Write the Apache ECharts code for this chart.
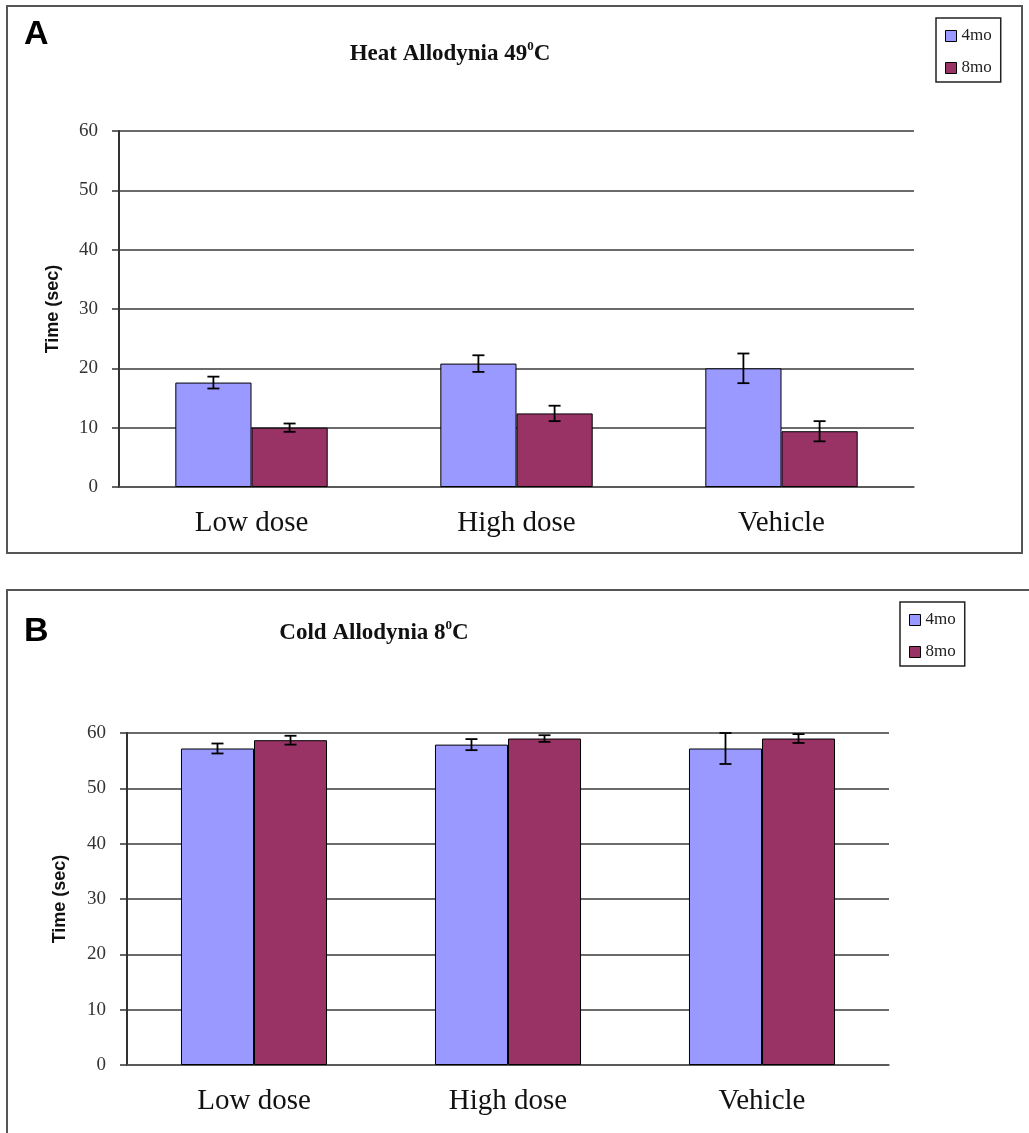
<!DOCTYPE html>
<html>
<head>
<meta charset="utf-8">
<script src="https://cdn.jsdelivr.net/npm/echarts@6/dist/echarts.min.js"></script>
<style>
  html, body { margin: 0; padding: 0; background: #fff; }
  #chart { width: 1029px; height: 1133px; }
</style>
</head>
<body>
<div id="chart"></div>
<script>
// ---- data ----
const categories = ['Low dose', 'High dose', 'Vehicle'];
const seriesNames = ['4mo', '8mo'];
const heat4 = [17.6, 20.8, 20.0];
const heat4Err = [1.0, 1.4, 2.5];
const heat8 = [10.0, 12.4, 9.4];
const heat8Err = [0.7, 1.3, 1.7];
const cold4 = [57.2, 57.9, 57.2];
const cold4Err = [0.9, 1.0, 2.8];
const cold8 = [58.7, 59.0, 59.0];
const cold8Err = [0.8, 0.6, 0.8];
const yMin = 0, yMax = 60, yStep = 10;

const SERIF = 'Liberation Serif';
const SANS = 'Liberation Sans';
const C4 = '#9999FF';
const C8 = '#993366';
const CAT_GAP = 0.425;

function errData(vals, errs) {
  return vals.map((v, i) => [i, v, errs[i]]);
}
function errRender(side) {
  return function (params, api) {
    const i = api.value(0), v = api.value(1), e = api.value(2);
    const band = api.size([1, 0])[0];
    const bw = band * (1 - CAT_GAP) / 2;
    const c = api.coord([i, v]);
    const x = c[0] + side * bw / 2;
    const top = api.coord([i, v + e])[1];
    const bot = api.coord([i, v - e])[1];
    const cap = 6;
    const st = { stroke: '#000', lineWidth: 1.8 };
    return {
      type: 'group',
      children: [
        { type: 'line', shape: { x1: x, y1: top, x2: x, y2: bot }, style: st },
        { type: 'line', shape: { x1: x - cap, y1: top, x2: x + cap, y2: top }, style: st },
        { type: 'line', shape: { x1: x - cap, y1: bot, x2: x + cap, y2: bot }, style: st }
      ]
    };
  };
}

function xAxisCfg(gi) {
  return {
    gridIndex: gi, type: 'category', data: categories,
    axisLine: { lineStyle: { color: '#555', width: 1.5 } },
    axisTick: { length: 6, lineStyle: { color: '#555', width: 1.5 } },
    axisLabel: { fontFamily: SERIF, fontSize: 29, color: '#111', margin: 22 }
  };
}
function yAxisCfg(gi, gap) {
  return {
    gridIndex: gi, type: 'value', min: yMin, max: yMax, interval: yStep,
    name: 'Time (sec)', nameLocation: 'middle', nameGap: gap, nameRotate: 90,
    nameTextStyle: { fontFamily: SANS, fontWeight: 'bold', fontSize: 18, color: '#111' },
    axisLine: { show: true, lineStyle: { color: '#333', width: 2 } },
    axisTick: { show: true, length: 7, lineStyle: { color: '#333', width: 1.5 } },
    splitLine: { show: true, lineStyle: { color: '#3a3a3a', width: 1.6 } },
    axisLabel: { fontFamily: SERIF, fontSize: 19, color: '#333', margin: 21 }
  };
}
function barCfg(name, gi, data, color) {
  return {
    name: name, type: 'bar', xAxisIndex: gi, yAxisIndex: gi, data: data,
    barGap: '0%', barCategoryGap: (CAT_GAP * 100) + '%',
    itemStyle: { color: color, borderColor: '#000', borderWidth: 1 },
    emphasis: { disabled: true }
  };
}
function errCfg(gi, vals, errs, side) {
  return {
    name: 'err', type: 'custom', xAxisIndex: gi, yAxisIndex: gi,
    data: errData(vals, errs), encode: { x: 0, y: 1 },
    renderItem: errRender(side), z: 5, silent: true
  };
}
function legendCfg(left, top) {
  return {
    data: seriesNames, orient: 'vertical', left: left, top: top,
    padding: [9, 9, 5, 9], itemWidth: 11, itemHeight: 11, itemGap: 14,
    borderColor: '#222', borderWidth: 1.5, icon: 'rect',
    itemStyle: { borderColor: '#000', borderWidth: 1 },
    textStyle: { fontFamily: SERIF, fontSize: 17, color: '#222', lineHeight: 18 }
  };
}
function titleCfg(main, cx, top) {
  return {
    text: '{t|' + main + '}{s|0}{t|C}',
    left: cx, top: top, textAlign: 'center', padding: 0,
    textStyle: {
      rich: {
        t: { fontFamily: SERIF, fontWeight: 'bold', fontSize: 23, color: '#111', lineHeight: 28 },
        s: { fontFamily: SERIF, fontWeight: 'bold', fontSize: 13, color: '#111', lineHeight: 13, verticalAlign: 'top' }
      }
    }
  };
}

const chart = echarts.init(document.getElementById('chart'), null, { renderer: 'canvas' });
chart.setOption({
  backgroundColor: '#fff',
  animation: false,
  title: [
    titleCfg('Heat Allodynia 49', 450, 40),
    titleCfg('Cold Allodynia 8', 374, 619)
  ],
  legend: [legendCfg(936, 18), legendCfg(900, 602)],
  grid: [
    { left: 119, top: 131, width: 795, height: 356 },
    { left: 127, top: 733, width: 762, height: 332 }
  ],
  xAxis: [xAxisCfg(0), xAxisCfg(1)],
  yAxis: [yAxisCfg(0, 57), yAxisCfg(1, 58)],
  series: [
    barCfg('4mo', 0, heat4, C4),
    barCfg('8mo', 0, heat8, C8),
    barCfg('4mo', 1, cold4, C4),
    barCfg('8mo', 1, cold8, C8),
    errCfg(0, heat4, heat4Err, -1),
    errCfg(0, heat8, heat8Err, 1),
    errCfg(1, cold4, cold4Err, -1),
    errCfg(1, cold8, cold8Err, 1)
  ],
  graphic: [
    { type: 'rect', shape: { x: 7, y: 6, width: 1015, height: 547 },
      style: { fill: 'none', stroke: '#555', lineWidth: 2 }, silent: true },
    { type: 'rect', shape: { x: 7, y: 590, width: 1100, height: 600 },
      style: { fill: 'none', stroke: '#555', lineWidth: 2 }, silent: true },
    { type: 'text', x: 24, y: 35,
      style: { text: 'A', font: 'bold 34px "Liberation Sans"', fill: '#000', textVerticalAlign: 'middle' } },
    { type: 'text', x: 24, y: 632,
      style: { text: 'B', font: 'bold 34px "Liberation Sans"', fill: '#000', textVerticalAlign: 'middle' } }
  ]
});
</script>
</body>
</html>
